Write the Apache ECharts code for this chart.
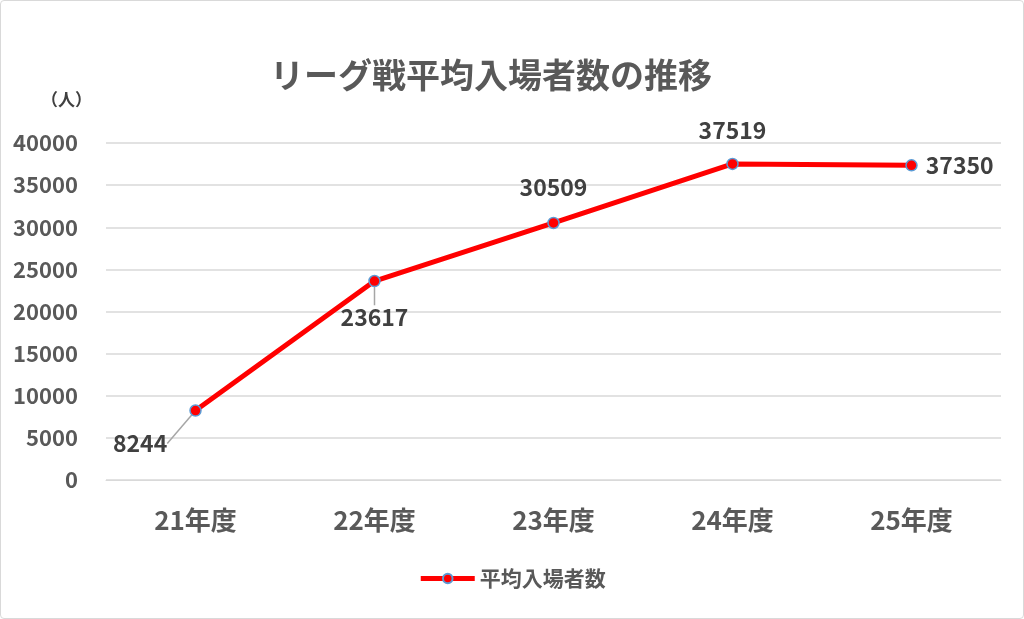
<!DOCTYPE html>
<html><head><meta charset="utf-8">
<script src="https://cdn.jsdelivr.net/npm/echarts@6/dist/echarts.min.js"></script>
<style>html,body{margin:0;padding:0;background:#fff}#c{width:1024px;height:619px;box-sizing:border-box;border:1px solid #d9d9d9;border-radius:4px}</style>
</head><body><div id="c"></div>
<script>
const categories = ['21年度','22年度','23年度','24年度','25年度'];
const attendance = [8244, 23617, 30509, 37519, 37350];
const seriesName = '平均入場者数';
const yTicks = {min: 0, max: 40000, interval: 5000};

const F = '"Noto Sans CJK JP", "Noto Sans", sans-serif';
const labelCfg = [
  {position: 'left', distance: 5},
  {position: 'bottom', distance: 5},
  {position: 'top', distance: 18},
  {position: 'top', distance: 16},
  {position: 'right', distance: 8}
];
const shift = [[-17, 33], [0, 13], [0, 0], [0, 0], [0, 0]];
const chart = echarts.init(document.getElementById('c'));
chart.setOption({
  animation: false,
  title: {text: 'リーグ戦平均入場者数の推移', left: 264, top: 52,
    textStyle: {fontFamily: F, fontSize: 34, fontWeight: 'bold', color: '#595959'}},
  graphic: [{type: 'text', left: 40, top: 90,
    style: {text: '（人）', font: 'bold 17px ' + F, fill: '#404040'}}],
  grid: {left: 105, right: 22, top: 142, bottom: 138},
  legend: {bottom: 24, left: 'center', itemWidth: 54, itemHeight: 12, itemGap: 6,
    lineStyle: {width: 5},
    textStyle: {fontFamily: F, fontSize: 21, fontWeight: 'bold', color: '#595959'},
    data: [seriesName]},
  xAxis: {type: 'category', data: categories, boundaryGap: true,
    axisLine: {show: true, lineStyle: {color: '#d9d9d9'}}, axisTick: {show: false},
    axisLabel: {margin: 27, fontFamily: F, fontSize: 26, fontWeight: 'bold', color: '#595959'}},
  yAxis: {type: 'value', min: yTicks.min, max: yTicks.max, interval: yTicks.interval,
    axisLine: {show: false}, axisTick: {show: false},
    splitLine: {lineStyle: {color: '#d9d9d9', width: 1.5}},
    axisLabel: {margin: 28, fontFamily: F, fontSize: 22, fontWeight: 'bold', color: '#595959',
      formatter: v => String(v)}},
  series: [{
    name: seriesName, type: 'line',
    data: attendance.map((v, i) => ({value: v,
      label: labelCfg[i],
      labelLine: {show: i < 2, lineStyle: {color: '#a6a6a6', width: 1.5}}})),
    symbol: 'circle', symbolSize: 11,
    lineStyle: {color: '#ff0000', width: 5},
    itemStyle: {color: '#ff0000', borderColor: '#5b9bd5', borderWidth: 1.5},
    label: {show: true, fontFamily: F, fontSize: 23, fontWeight: 'bold', color: '#404040'},
    labelLayout: p => ({dx: shift[p.dataIndex][0], dy: shift[p.dataIndex][1]})
  }]
});
</script></body></html>
